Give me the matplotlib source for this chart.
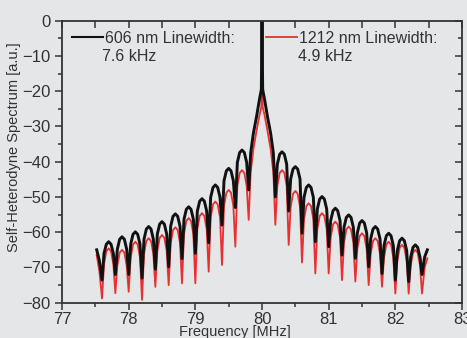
import matplotlib
matplotlib.use("Agg")
import matplotlib.pyplot as plt
from matplotlib.lines import Line2D
from matplotlib.ticker import MultipleLocator

# --------------------------------------------------------------------------- #
# Data (frequency in MHz, spectrum in a.u. / dB)
# each fringe lobe: dip, two points on the rise, top, two points on the fall
# --------------------------------------------------------------------------- #
FREQ = [77.52, 77.56,
        77.60, 77.63, 77.665, 77.70, 77.735, 77.77,
        77.80, 77.83, 77.865, 77.90, 77.935, 77.97,
        78.00, 78.03, 78.065, 78.10, 78.135, 78.17,
        78.20, 78.23, 78.265, 78.30, 78.335, 78.37,
        78.40, 78.43, 78.465, 78.50, 78.535, 78.57,
        78.60, 78.63, 78.665, 78.70, 78.735, 78.77,
        78.80, 78.83, 78.865, 78.90, 78.935, 78.97,
        79.00, 79.03, 79.065, 79.10, 79.135, 79.17,
        79.20, 79.23, 79.265, 79.30, 79.335, 79.37,
        79.40, 79.43, 79.465, 79.50, 79.535, 79.57,
        79.60, 79.63, 79.665, 79.70, 79.735, 79.77,
        79.80, 79.83, 79.87, 79.92, 79.96, 79.99, 80.00, 80.01, 80.04, 80.08,
        80.13, 80.17,
        80.20, 80.23, 80.265, 80.30, 80.335, 80.37,
        80.40, 80.43, 80.465, 80.50, 80.535, 80.57,
        80.60, 80.63, 80.665, 80.70, 80.735, 80.77,
        80.80, 80.83, 80.865, 80.90, 80.935, 80.97,
        81.00, 81.03, 81.065, 81.10, 81.135, 81.17,
        81.20, 81.23, 81.265, 81.30, 81.335, 81.37,
        81.40, 81.43, 81.465, 81.50, 81.535, 81.57,
        81.60, 81.63, 81.665, 81.70, 81.735, 81.77,
        81.80, 81.83, 81.865, 81.90, 81.935, 81.97,
        82.00, 82.03, 82.065, 82.10, 82.135, 82.17,
        82.20, 82.23, 82.265, 82.30, 82.335, 82.37,
        82.40, 82.44, 82.48]

SPEC_606 = [-65.0, -68.0,
            -73.6, -66.0, -63.4, -62.7, -63.4, -66.0,
            -72.0, -64.8, -62.0, -61.3, -62.0, -64.8,
            -72.0, -63.4, -60.6, -59.9, -60.6, -63.4,
            -73.0, -62.0, -59.1, -58.4, -59.1, -62.0,
            -70.5, -60.5, -57.7, -57.0, -57.7, -60.5,
            -69.8, -58.3, -55.5, -54.8, -55.5, -58.3,
            -67.5, -56.3, -53.5, -52.8, -53.5, -56.3,
            -66.0, -54.0, -51.2, -50.5, -51.2, -54.0,
            -63.0, -50.1, -47.3, -46.6, -47.3, -50.1,
            -58.0, -45.4, -42.6, -41.9, -42.6, -45.4,
            -53.0, -40.2, -37.4, -36.7, -37.4, -40.2,
            -48.0, -37.5, -32.0, -27.0, -22.5, -19.5, 0.0, -19.5, -22.5, -27.0,
            -32.0, -37.5,
            -50.0, -40.7, -37.9, -37.2, -37.9, -40.7,
            -54.0, -44.9, -42.1, -41.4, -42.1, -44.9,
            -60.3, -50.1, -47.3, -46.6, -47.3, -50.1,
            -62.7, -53.4, -50.6, -49.9, -50.6, -53.4,
            -64.1, -56.7, -53.9, -53.2, -53.9, -56.7,
            -66.5, -58.6, -55.8, -55.1, -55.8, -58.6,
            -67.4, -60.2, -57.4, -56.7, -57.4, -60.2,
            -69.8, -61.9, -59.1, -58.4, -59.1, -61.9,
            -71.7, -63.8, -61.0, -60.3, -61.0, -63.8,
            -73.6, -65.2, -62.4, -61.7, -62.4, -65.2,
            -74.0, -67.1, -64.3, -63.6, -64.3, -67.1,
            -72.0, -67.0, -65.0]

SPEC_1212 = [-66.5, -71.0,
             -78.8, -69.1, -65.4, -64.6, -65.4, -69.1,
             -77.3, -69.5, -65.8, -65.0, -65.8, -69.5,
             -76.9, -67.2, -63.5, -62.7, -63.5, -67.2,
             -79.2, -66.2, -62.5, -61.7, -62.5, -66.2,
             -75.5, -65.3, -61.6, -60.8, -61.6, -65.3,
             -75.0, -63.1, -59.4, -58.6, -59.4, -63.1,
             -74.5, -60.5, -56.8, -56.0, -56.8, -60.5,
             -74.5, -59.1, -55.4, -54.6, -55.4, -59.1,
             -71.2, -55.8, -52.1, -51.3, -52.1, -55.8,
             -69.3, -52.5, -48.8, -48.0, -48.8, -52.5,
             -64.1, -46.9, -43.2, -42.4, -43.2, -46.9,
             -56.5, -43.0, -36.5, -31.0, -27.0, -24.5, -1.0, -24.5, -27.0, -31.0,
             -36.5, -43.0,
             -57.9, -46.9, -43.2, -42.4, -43.2, -46.9,
             -63.6, -52.8, -49.1, -48.3, -49.1, -52.8,
             -68.6, -56.3, -52.6, -51.8, -52.6, -56.3,
             -71.7, -59.1, -55.4, -54.6, -55.4, -59.1,
             -71.7, -61.5, -57.8, -57.0, -57.8, -61.5,
             -73.6, -62.9, -59.2, -58.4, -59.2, -62.9,
             -74.0, -64.8, -61.1, -60.3, -61.1, -64.8,
             -75.0, -66.2, -62.5, -61.7, -62.5, -66.2,
             -75.5, -67.2, -63.5, -62.7, -63.5, -67.2,
             -77.4, -68.1, -64.4, -63.6, -64.4, -68.1,
             -77.4, -69.5, -65.8, -65.0, -65.8, -69.5,
             -77.4, -70.0, -67.4]

LABEL_606 = "606 nm Linewidth:"
LABEL_1212 = "1212 nm Linewidth:"
LW_606 = "7.6 kHz"
LW_1212 = "4.9 kHz"

BG = "#e5e6e8"
INK = "#333333"
RED = "#e8302e"
BLACK = "#111111"

plt.rcParams["font.family"] = ["Liberation Sans", "DejaVu Sans"]

fig = plt.figure(figsize=(4.67, 3.38), dpi=100, facecolor=BG)
ax = fig.add_axes([0.1328, 0.1044, 0.8565, 0.8344], facecolor=BG)

ax.plot(FREQ, SPEC_1212, color=RED, lw=1.3)
ax.plot(FREQ, SPEC_606, color=BLACK, lw=2.1)

ax.set_xlim(77, 83)
ax.set_ylim(-80, 0)
ax.xaxis.set_major_locator(MultipleLocator(1))
ax.xaxis.set_minor_locator(MultipleLocator(0.5))
ax.yaxis.set_major_locator(MultipleLocator(10))
ax.yaxis.set_minor_locator(MultipleLocator(5))
ax.tick_params(which="both", direction="out", colors=INK, labelsize=12,
               width=1.1, pad=3)
ax.tick_params(axis="x", pad=2)
ax.tick_params(which="major", length=5)
ax.tick_params(which="minor", length=3)
for s in ax.spines.values():
    s.set_color(INK)
    s.set_linewidth(1.3)

# top / right: ticks pointing inward, no labels
top = ax.secondary_xaxis("top")
right = ax.secondary_yaxis("right")
for sec in (top, right):
    sec.tick_params(which="both", direction="in", colors=INK, width=1.1)
    sec.tick_params(which="major", length=5)
    sec.tick_params(which="minor", length=3)
    sec.spines[:].set_visible(False)
top.xaxis.set_major_locator(MultipleLocator(1))
top.xaxis.set_minor_locator(MultipleLocator(0.5))
top.tick_params(which="minor", length=5)
top.set_xticklabels([])
right.yaxis.set_major_locator(MultipleLocator(10))
right.yaxis.set_minor_locator(MultipleLocator(5))
right.set_yticklabels([])

ax.set_ylabel("Self-Heterodyne Spectrum [a.u.]", fontsize=10.5, color=INK)
ax.yaxis.set_label_coords(-0.102, 0.55)
ax.set_xlabel("Frequency [MHz]", fontsize=10.5, color=INK, va="top")
ax.xaxis.set_label_coords(0.4325, -0.078)

# legend: two separate entries, second line of each label written beneath
leg1 = ax.legend([Line2D([], [], color=BLACK, lw=1.5)], [LABEL_606],
                 loc="upper left", bbox_to_anchor=(0.025, 0.965),
                 frameon=False, fontsize=11.5, handlelength=1.95,
                 handletextpad=0.1, borderpad=0, borderaxespad=0,
                 labelcolor=INK)
ax.add_artist(leg1)
ax.legend([Line2D([], [], color=RED, lw=1.3)], [LABEL_1212],
          loc="upper left", bbox_to_anchor=(0.51, 0.965),
          frameon=False, fontsize=11.5, handlelength=1.95,
          handletextpad=0.1, borderpad=0, borderaxespad=0,
          labelcolor=INK)
ax.text(0.1, 0.872, LW_606, transform=ax.transAxes, fontsize=11.5,
        color=INK, va="center", ha="left")
ax.text(0.59, 0.872, LW_1212, transform=ax.transAxes, fontsize=11.5,
        color=INK, va="center", ha="left")

fig.savefig("out.png", dpi=100, facecolor=BG)
